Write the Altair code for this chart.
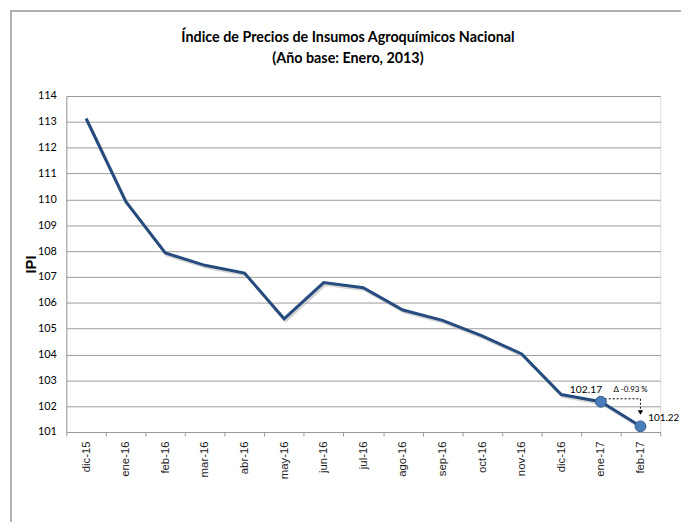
import altair as alt
import pandas as pd

months = ["dic-15", "ene-16", "feb-16", "mar-16", "abr-16", "may-16", "jun-16",
          "jul-16", "ago-16", "sep-16", "oct-16", "nov-16", "dic-16", "ene-17", "feb-17"]
ipi = [113.13, 109.92, 107.93, 107.45, 107.15, 105.38, 106.78,
       106.58, 105.72, 105.32, 104.72, 104.02, 102.45, 102.17, 101.22]
y_ticks = list(range(101, 115))
marked = ["ene-17", "feb-17"]
delta_text = "Δ -0.93 %"
title_lines = ["Índice de Precios de Insumos Agroquímicos Nacional", "(Año base: Enero, 2013)"]

df = pd.DataFrame({"mes": months, "ipi": ipi})
df_marked = df[df["mes"].isin(marked)]
ene = df[df["mes"] == "ene-17"].iloc[0]
feb = df[df["mes"] == "feb-17"].iloc[0]

FONT = "Lato"

xscale = alt.Scale(type="band", domain=months, paddingInner=0, paddingOuter=0)
yscale = alt.Scale(domain=[101, 114], nice=False, zero=False)

x_axis = alt.Axis(title=None, labelAngle=-90, labelFont="Liberation Sans",
                  labelFontSize=11.5, labelColor="#222222", tickBand="extent",
                  tickSize=4, tickColor="#999999", domainColor="#999999",
                  labelPadding=5, grid=False, labelBaseline="middle",
                  labelAlign="right", labelOverlap=False)
y_axis = alt.Axis(values=y_ticks, title="IPI", titleFont="Liberation Sans",
                  titleFontSize=15, titleFontWeight="bold", titleColor="#000000",
                  titlePadding=-1, labelFont=FONT, labelFontSize=11,
                  labelColor="#000000", tickSize=0, labelPadding=10,
                  labelOverlap=False, domainColor="#999999",
                  gridColor="#9a9a9a", gridWidth=1)


def X(field):
    return alt.X(field, type="nominal", scale=xscale, bandPosition=0.5, axis=x_axis)


def Y(field):
    return alt.Y(field, type="quantitative", scale=yscale, axis=y_axis)


one = pd.DataFrame({"k": [0]})
frame_top = alt.Chart(one).mark_rule(color="#b0b0b0", strokeWidth=2).encode(
    x=alt.value(-57), x2=alt.value(640), y=alt.value(-86))
frame_left = alt.Chart(one).mark_rule(color="#b0b0b0", strokeWidth=2).encode(
    x=alt.value(-56), y=alt.value(-86), y2=alt.value(440))

t1 = alt.Chart(pd.DataFrame({"t": [title_lines[0]]})).mark_text(
    font=FONT, fontSize=14.5, fontWeight="bold", color="#000000").encode(
    x=alt.value(285), y=alt.value(-59), text="t:N")
t2 = alt.Chart(pd.DataFrame({"t": [title_lines[1]]})).mark_text(
    font=FONT, fontSize=14.5, fontWeight="bold", color="#000000").encode(
    x=alt.value(285), y=alt.value(-37), text="t:N")

base = alt.Chart(df)

shadow = base.mark_line(color="#b8b8b8", strokeWidth=3, opacity=0.6,
                        xOffset=1.5, yOffset=2).encode(x=X("mes"), y=Y("ipi"))
line = base.mark_line(color="#264b7e", strokeWidth=3).encode(x=X("mes"), y=Y("ipi"))

pts = alt.Chart(df_marked).mark_point(filled=True, size=120, color="#4a7ebb",
                                      stroke="#2f5a8e", strokeWidth=1, opacity=1
                                      ).encode(x=X("mes"), y=Y("ipi"))

lbl_ene = alt.Chart(df[df["mes"] == "ene-17"]).mark_text(
    font=FONT, fontSize=10.5, color="#000000", dx=-15, dy=-12
).encode(x=X("mes"), y=Y("ipi"), text=alt.Text("ipi:Q", format=".2f"))
lbl_feb = alt.Chart(df[df["mes"] == "feb-17"]).mark_text(
    font=FONT, fontSize=10, color="#000000", align="left", dx=8, dy=-8
).encode(x=X("mes"), y=Y("ipi"), text=alt.Text("ipi:Q", format=".2f"))

arrow_df = pd.DataFrame({"mes": ["ene-17"], "mes2": ["feb-17"], "ipi": [ene["ipi"]],
                         "ipi2": [feb["ipi"]], "t": [delta_text]})
hrule = alt.Chart(arrow_df).mark_rule(color="#000000", strokeDash=[2, 2], strokeWidth=1,
                                      yOffset=-3).encode(
    x=X("mes"), x2=alt.X2("mes2:N", bandPosition=0.5), y=Y("ipi"))
vrule = alt.Chart(arrow_df).mark_rule(color="#000000", strokeDash=[2, 2], strokeWidth=1,
                                      y2Offset=-14, yOffset=-3).encode(
    x=X("mes2"), y=Y("ipi"), y2=alt.Y2("ipi2:Q"))
head = alt.Chart(arrow_df).mark_point(shape="triangle-down", filled=True, size=30,
                                      color="#000000", opacity=1, yOffset=-14).encode(
    x=X("mes2"), y=Y("ipi2"))
dtext = alt.Chart(arrow_df).mark_text(font=FONT, fontSize=8, color="#000000",
                                      dy=-12, dx=-10).encode(
    x=X("mes2"), y=Y("ipi"), text="t:N")

chart = alt.layer(frame_top, frame_left, t1, t2, shadow, line, hrule, vrule, head, pts,
                  lbl_ene, lbl_feb, dtext).properties(
    width=601, height=340,
    autosize=alt.AutoSizeParams(type="none"),
    padding={"left": 59, "top": 86, "right": 21, "bottom": 88},
).configure_view(stroke=None).configure(background="white")

chart.save("out.html", embed_options={"renderer": "svg", "actions": False})
